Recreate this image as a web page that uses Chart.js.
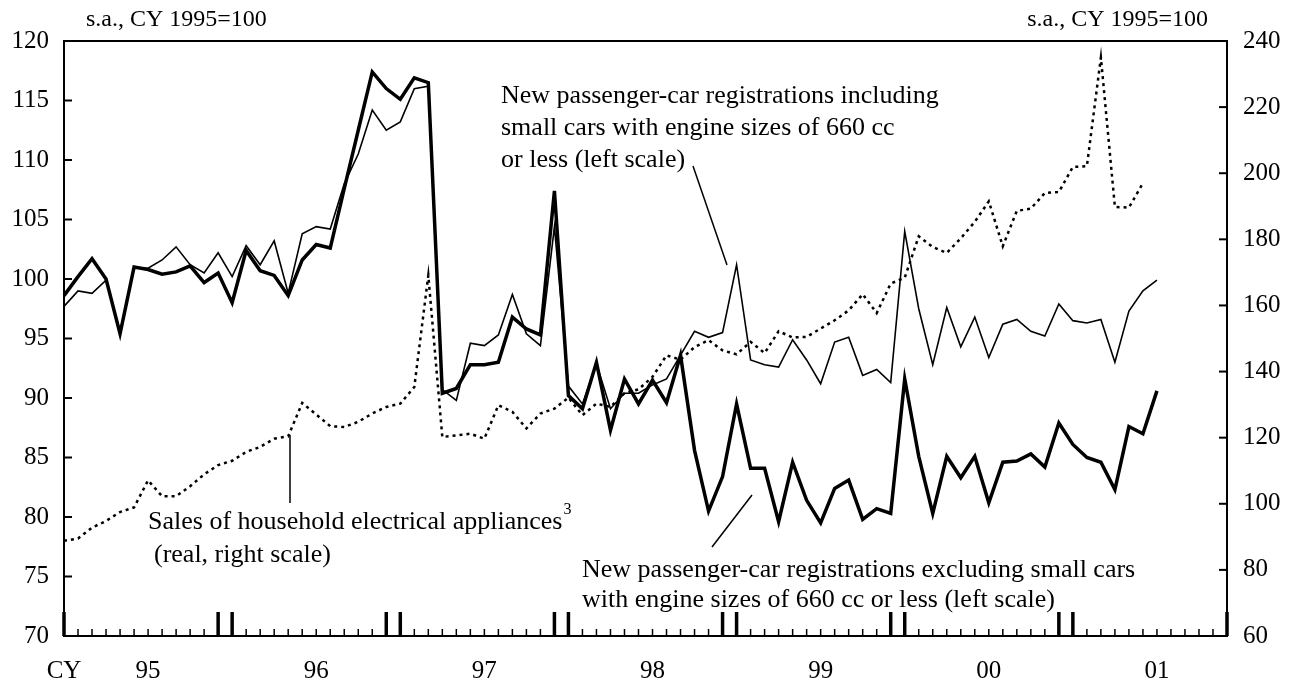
<!DOCTYPE html>
<html>
<head>
<meta charset="utf-8">
<script src="https://cdn.jsdelivr.net/npm/chart.js@4.4.1/dist/chart.umd.min.js"></script>
<style>
  html, body { margin: 0; padding: 0; background: #fff; }
  #wrap { width: 1289px; height: 682px; }
</style>
</head>
<body>
<div id="wrap"><canvas id="chart" width="1289" height="682"></canvas></div>
<script>
// Monthly data, Jan 1995 onward (s.a., CY 1995=100)
const yearLabels = ['95', '96', '97', '98', '99', '00', '01'];

// New passenger-car registrations excluding small cars (left scale)
const carsExcl = [
  98.6, 100.2, 101.7, 100.0, 95.4, 101.0, 100.8, 100.4, 100.6, 101.1, 99.7, 100.5,
  98.0, 102.4, 100.7, 100.3, 98.6, 101.6, 102.9, 102.6, 107.6, 112.5, 117.4, 116.0,
  115.1, 116.9, 116.5, 90.4, 90.8, 92.8, 92.8, 93.0, 96.8, 95.8, 95.3, 107.4,
  90.2, 89.1, 93.0, 87.3, 91.6, 89.5, 91.5, 89.6, 93.6, 85.6, 80.5, 83.4,
  89.5, 84.1, 84.1, 79.6, 84.6, 81.4, 79.5, 82.4, 83.1, 79.8, 80.7, 80.3,
  91.6, 85.1, 80.3, 85.1, 83.3, 85.1, 81.2, 84.6, 84.7, 85.3, 84.2, 87.9,
  86.1, 85.0, 84.6, 82.3, 87.6, 87.0, 90.6
];

// New passenger-car registrations including small cars (left scale)
const carsIncl = [
  97.7, 99.0, 98.8, 99.9, 95.6, 100.9, 100.9, 101.6, 102.7, 101.2, 100.5, 102.2,
  100.2, 102.8, 101.2, 103.2, 98.8, 103.8, 104.4, 104.2, 108.0, 110.5, 114.2, 112.5,
  113.2, 116.0, 116.2, 90.7, 89.8, 94.6, 94.4, 95.3, 98.7, 95.4, 94.4, 104.4,
  91.0, 89.5, 92.9, 89.1, 90.4, 90.4, 91.1, 91.6, 93.6, 95.6, 95.1, 95.5,
  101.2, 93.2, 92.8, 92.6, 94.9, 93.2, 91.2, 94.7, 95.1, 91.9, 92.4, 91.3,
  104.0, 97.5, 92.8, 97.6, 94.3, 96.8, 93.4, 96.2, 96.6, 95.6, 95.2, 97.9,
  96.5, 96.3, 96.6, 93.0, 97.3, 99.0, 99.9
];

// Sales of household electrical appliances (real, right scale)
const appliances = [
  88.8, 89.5, 92.8, 94.8, 97.5, 98.9, 107.1, 102.3, 102.3, 105.3, 108.9, 111.7,
  113.0, 115.7, 117.2, 119.7, 120.4, 130.5, 127.0, 123.5, 123.2, 124.8, 127.3, 129.3,
  130.3, 135.3, 169.1, 120.2, 120.7, 121.2, 119.7, 129.8, 127.8, 122.8, 127.3, 128.8,
  132.1, 126.8, 130.3, 129.3, 133.5, 134.6, 138.4, 144.9, 143.6, 147.4, 149.5, 146.4,
  145.2, 149.0, 145.6, 152.2, 150.3, 150.5, 153.0, 155.5, 158.5, 163.4, 157.7, 166.6,
  168.4, 180.9, 177.7, 175.9, 180.3, 185.3, 191.5, 177.9, 188.6, 189.3, 194.0, 194.3,
  201.9, 202.1, 235.0, 189.8, 189.6, 197.0
];

// month categories Jan 1995 .. Dec 2001
const months = [];
for (let y = 1995; y <= 2001; y++) {
  for (let m = 1; m <= 12; m++) months.push(y + '-' + (m < 10 ? '0' + m : m));
}

// month indexes that get the long tick marks
const longTicks = [0, 11, 12, 23, 24, 35, 36, 47, 48, 59, 60, 71, 72, 83];

const FONT = '"Liberation Serif", "Times New Roman", serif';

const framePlugin = {
  id: 'frame',
  afterDraw(chart) {
    const { ctx, chartArea: a, scales } = chart;
    ctx.save();
    ctx.strokeStyle = '#000';
    ctx.lineCap = 'butt';

    // box
    ctx.lineWidth = 2;
    ctx.strokeRect(a.left, a.top, a.right - a.left, a.bottom - a.top);

    // inward ticks on the value axes
    ctx.lineWidth = 2;
    scales.y.ticks.forEach(t => {
      const py = scales.y.getPixelForValue(t.value);
      ctx.beginPath(); ctx.moveTo(a.left, py); ctx.lineTo(a.left + 8, py); ctx.stroke();
    });
    scales.y2.ticks.forEach(t => {
      const py = scales.y2.getPixelForValue(t.value);
      ctx.beginPath(); ctx.moveTo(a.right, py); ctx.lineTo(a.right - 8, py); ctx.stroke();
    });

    // month ticks along the bottom
    for (let i = 0; i < months.length; i++) {
      const px = scales.x.getPixelForValue(i);
      const tall = longTicks.includes(i);
      ctx.lineWidth = tall ? 3.5 : 1.5;
      ctx.beginPath();
      ctx.moveTo(px, a.bottom);
      ctx.lineTo(px, a.bottom - (tall ? 24 : 7));
      ctx.stroke();
    }

    // notes and leader lines
    ctx.fillStyle = '#000';
    ctx.textBaseline = 'middle';
    ctx.textAlign = 'left';
    ctx.font = '24px ' + FONT;
    ctx.fillText('s.a., CY 1995=100', 86, 20);
    ctx.textAlign = 'right';
    ctx.fillText('s.a., CY 1995=100', 1208, 20);

    ctx.textAlign = 'left';
    ctx.font = '26px ' + FONT;
    ctx.fillText('New passenger-car registrations including', 501, 96);
    ctx.fillText('small cars with engine sizes of 660 cc', 501, 128);
    ctx.fillText('or less (left scale)', 501, 160);

    ctx.fillText('Sales of household electrical appliances', 148, 522);
    const w = ctx.measureText('Sales of household electrical appliances').width;
    ctx.font = '16px ' + FONT;
    ctx.fillText('3', 148 + w + 1, 510);
    ctx.font = '26px ' + FONT;
    ctx.fillText('(real, right scale)', 154, 555);

    ctx.fillText('New passenger-car registrations excluding small cars', 582, 570);
    ctx.fillText('with engine sizes of 660 cc or less (left scale)', 582, 600);

    ctx.lineWidth = 1.5;
    ctx.beginPath(); ctx.moveTo(693, 166); ctx.lineTo(727, 265); ctx.stroke();
    ctx.beginPath(); ctx.moveTo(290, 435); ctx.lineTo(290, 503); ctx.stroke();
    ctx.beginPath(); ctx.moveTo(712, 547); ctx.lineTo(752, 495); ctx.stroke();
    ctx.restore();
  }
};

new Chart(document.getElementById('chart'), {
  type: 'line',
  data: {
    labels: months,
    datasets: [
      {
        label: 'Excluding small cars',
        data: carsExcl,
        yAxisID: 'y',
        borderColor: '#000',
        borderWidth: 3.5,
        pointRadius: 0,
        tension: 0,
        fill: false
      },
      {
        label: 'Including small cars',
        data: carsIncl,
        yAxisID: 'y',
        borderColor: '#000',
        borderWidth: 1.6,
        pointRadius: 0,
        tension: 0,
        fill: false
      },
      {
        label: 'Household electrical appliances',
        data: appliances,
        yAxisID: 'y2',
        borderColor: '#000',
        borderWidth: 2.5,
        borderDash: [3, 4],
        pointRadius: 0,
        tension: 0,
        fill: false
      }
    ]
  },
  options: {
    responsive: false,
    animation: false,
    devicePixelRatio: 1,
    layout: { padding: { top: 41, left: 0, right: 0, bottom: 0 } },
    plugins: {
      legend: { display: false },
      tooltip: { enabled: false }
    },
    scales: {
      x: {
        type: 'category',
        offset: false,
        grid: { display: false, drawTicks: false },
        border: { display: false },
        afterFit: s => { s.height = 46; },
        ticks: {
          autoSkip: false,
          maxRotation: 0,
          padding: 20,
          color: '#000',
          font: { family: FONT, size: 25 },
          callback: (v, i) => i === 0 ? 'CY' : (i % 12 === 6 ? yearLabels[(i - 6) / 12] : '')
        }
      },
      y: {
        position: 'left',
        min: 70,
        max: 120,
        grid: { display: false, drawTicks: false },
        border: { display: false },
        afterFit: s => { s.width = 64; },
        ticks: { stepSize: 5, padding: 15, color: '#000', font: { family: FONT, size: 25 } }
      },
      y2: {
        position: 'right',
        min: 60,
        max: 240,
        grid: { display: false, drawTicks: false },
        border: { display: false },
        afterFit: s => { s.width = 62; },
        ticks: { stepSize: 20, padding: 16, color: '#000', font: { family: FONT, size: 25 } }
      }
    }
  },
  plugins: [framePlugin]
});
</script>
</body>
</html>
